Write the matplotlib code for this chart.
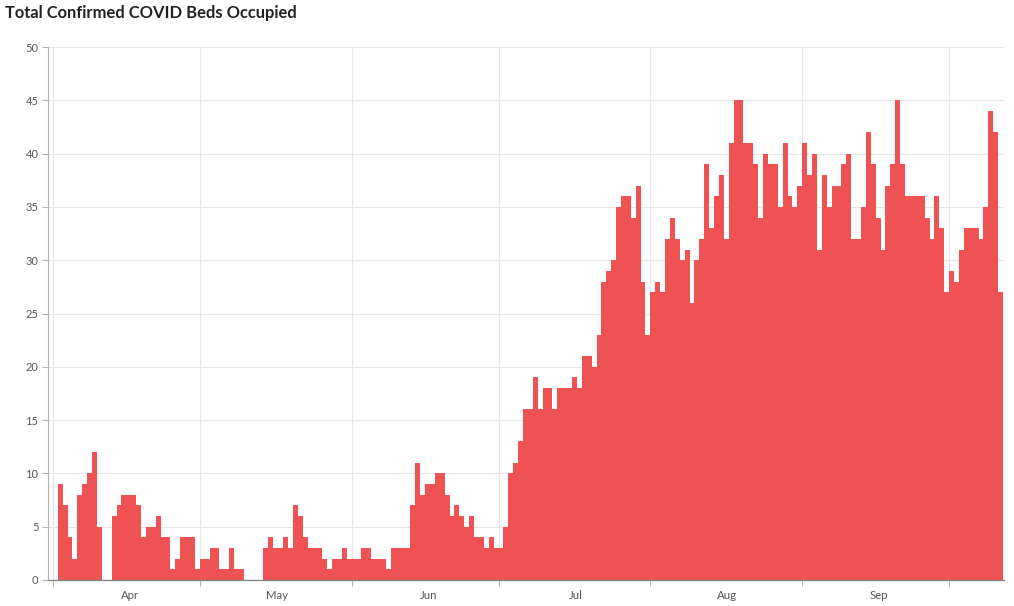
import matplotlib
matplotlib.use("Agg")
import matplotlib.pyplot as plt
import matplotlib.dates as mdates
import pandas as pd
import numpy as np

plt.rcParams['font.family'] = ['Lato', 'DejaVu Sans']

title = "Total Confirmed COVID Beds Occupied"
start_date = "2020-04-01"
# daily values from Apr 1 2020
beds = [0,
        9, 7, 4, 2, 8, 9, 10, 12, 5,
        0, 0,
        6, 7, 8, 8, 8, 7, 4, 5, 5, 6, 4, 4, 1, 2, 4, 4, 4, 1, 2, 2,
        3, 3, 1, 1, 3, 1, 1, 0, 0, 0, 0, 3, 4, 3, 3, 4, 3, 7, 6, 4, 3, 3, 3, 2, 1, 2, 2, 3, 2, 2, 2, 3,
        3, 2, 2, 2, 1, 3, 3, 3, 3, 7, 11, 8, 9, 9, 10, 10, 8, 6, 7, 6, 5, 6, 4, 4, 3, 4, 3, 3, 5, 10,
        11, 13, 16, 16, 19, 16, 18, 18, 16, 18, 18, 18, 19, 18, 21, 21, 20, 23, 28,
        29, 30, 35, 36, 36, 34, 37, 28, 23, 27, 28, 27, 32, 34, 32, 30, 31, 26, 30, 32,
        39, 33, 36, 38, 32, 41, 45, 45, 41, 41, 39, 34, 40, 39, 39, 35, 41, 36, 35, 37, 41,
        38, 40, 31, 38, 35, 37, 37, 39, 40, 32, 32, 35, 42, 39, 34, 31, 37, 39, 45, 39,
        36, 36, 36, 36, 34, 32, 36, 33, 27, 29, 28, 31, 33, 33, 33, 32, 35, 44, 42, 27]
month_labels = ["Apr", "May", "Jun", "Jul", "Aug", "Sep"]
y_ticks = [0, 5, 10, 15, 20, 25, 30, 35, 40, 45, 50]

dates = pd.date_range(start_date, periods=len(beds), freq="D")
x = mdates.date2num(dates)

W, H = 1014, 606
fig = plt.figure(figsize=(W / 100, H / 100), dpi=100)
ax = fig.add_axes([48 / W, 1 - 580 / H, (1004 - 48) / W, (580 - 47) / H])

bar_color = "#EE5253"
ax.bar(x, beds, width=1.0, align="edge", color=bar_color, linewidth=0, zorder=2)

ax.set_ylim(0, 50)
ax.set_yticks(y_ticks)
ax.set_xlim(mdates.date2num(pd.Timestamp("2020-03-31")),
            mdates.date2num(pd.Timestamp("2020-10-12")) + 0.2)

month_starts = mdates.date2num(pd.date_range("2020-04-01", "2020-10-01", freq="MS"))
mid_months = mdates.date2num(pd.date_range("2020-04-01", "2020-09-01", freq="MS")) + 15.7
ax.set_xticks(month_starts)
ax.set_xticklabels([])
ax.set_xticks(mid_months, minor=True)
ax.set_xticklabels(month_labels, minor=True)

ax.grid(True, which="major", axis="both", color="#e6e6e6", linewidth=0.8, zorder=0)
ax.set_axisbelow(True)

for s in ["top", "right"]:
    ax.spines[s].set_visible(False)
ax.spines["left"].set_color("#b0b0b0")
ax.spines["bottom"].set_color("#888888")
ax.spines["left"].set_linewidth(0.8)
ax.spines["bottom"].set_linewidth(1.0)

ax.tick_params(axis="y", which="major", length=4.3, width=0.8, color="#b0b0b0",
               labelsize=8, labelcolor="#555555", pad=2.5)
ax.tick_params(axis="x", which="major", length=4.3, width=0.8, color="#b0b0b0")
ax.tick_params(axis="x", which="minor", length=0, labelsize=8.2, labelcolor="#555555", pad=7.5)

fig.text(5 / W, 1 - 13 / H, title, fontsize=11.9, fontweight="bold", color="#222222",
         ha="left", va="center")

fig.savefig("out.png", dpi=100)
